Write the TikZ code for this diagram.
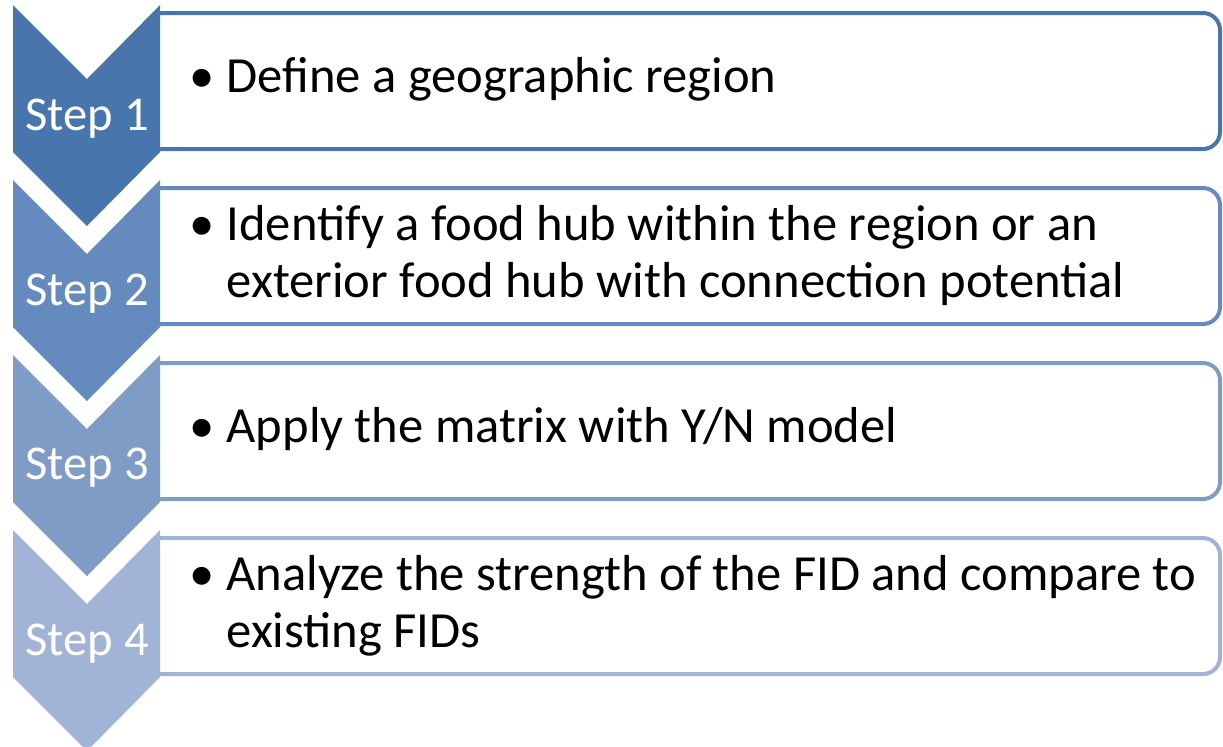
\documentclass[tikz,border=0pt]{standalone}
\usepackage{fontspec}
\setmainfont{Carlito}
\definecolor{stepA}{RGB}{72,118,172}
\definecolor{stepB}{RGB}{101,138,190}
\definecolor{stepC}{RGB}{127,156,199}
\definecolor{stepD}{RGB}{161,180,214}
\begin{document}
\begin{tikzpicture}[x=0.5pt,y=-0.5pt,
        chev/.style={fill=#1},
        box/.style={draw=#1,line width=2pt,fill=white,rounded corners=8.5pt},
        steplabel/.style={text=white,anchor=base,inner sep=0pt,font=\fontsize{24.3}{28}\selectfont},
        itemtext/.style={anchor=west,inner sep=0pt,font=\fontsize{25.3}{28.5}\selectfont}]
        \useasboundingbox (0,0) rectangle (1223,746);
        %% Boxes
        \draw[box=stepA] (160,13)  -- (1220,13)  -- (1220,149) -- (160,149);
        \draw[box=stepB] (160,188) -- (1220,188) -- (1220,324) -- (160,324);
        \draw[box=stepC] (160,363) -- (1220,363) -- (1220,499) -- (160,499);
        \draw[box=stepD] (160,538) -- (1220,538) -- (1220,674) -- (160,674);
        %% Chevrons
        \fill[chev=stepA] (13,5)   -- (87,79)  -- (160,5)   -- (160,152) -- (87,226) -- (13,152) -- cycle;
        \fill[chev=stepB] (13,180) -- (87,254) -- (160,180) -- (160,327) -- (87,401) -- (13,327) -- cycle;
        \fill[chev=stepC] (13,355) -- (87,429) -- (160,355) -- (160,502) -- (87,576) -- (13,502) -- cycle;
        \fill[chev=stepD] (13,530) -- (87,604) -- (160,530) -- (160,677) -- (87,751) -- (13,677) -- cycle;
        %% Step labels
        \node[steplabel] (lbl1) at (87,130) {Step 1};
        \node[steplabel] (lbl2) at (87,305) {Step 2};
        \node[steplabel] (lbl3) at (87,479) {Step 3};
        \node[steplabel] (lbl4) at (87,655) {Step 4};
        %% Texts
        \node[itemtext] (txt1) at (189,81)
            {\begin{tabular}{@{}l@{\hspace{6pt}}l@{}}\textbullet & Define a geographic region\end{tabular}};
        \node[itemtext] (txt2) at (189,258)
            {\begin{tabular}{@{}l@{\hspace{6pt}}l@{}}\textbullet & Identify a food hub within the region or an\\
             & exterior food hub with connection potential\end{tabular}};
        \node[itemtext] (txt3) at (189,431)
            {\begin{tabular}{@{}l@{\hspace{6pt}}l@{}}\textbullet & Apply the matrix with Y/N model\end{tabular}};
        \node[itemtext] (txt4) at (189,608)
            {\begin{tabular}{@{}l@{\hspace{6pt}}l@{}}\textbullet & Analyze the strength of the FID and compare to\\
             & existing FIDs\end{tabular}};
\end{tikzpicture}
\end{document}
